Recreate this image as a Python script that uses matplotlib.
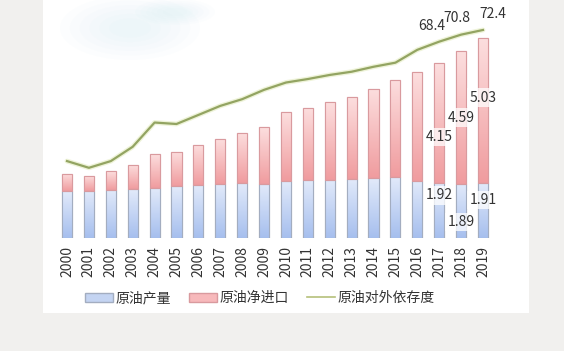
import matplotlib
matplotlib.use("Agg")
import matplotlib.pyplot as plt
import numpy as np
from matplotlib.patches import Patch, Rectangle, Ellipse
from matplotlib.lines import Line2D
from matplotlib.colors import LinearSegmentedColormap

plt.rcParams['font.family'] = ['Noto Sans CJK SC', 'DejaVu Sans']
plt.rcParams['font.weight'] = 'light'

# 数据（亿吨 / %）
years = [str(y) for y in range(2000, 2020)]
production = [1.62, 1.64, 1.67, 1.69, 1.74, 1.79, 1.83, 1.87, 1.90, 1.88,
              1.99, 2.00, 2.03, 2.06, 2.07, 2.12, 1.99, 1.92, 1.89, 1.91]
net_import = [0.60, 0.53, 0.66, 0.84, 1.18, 1.20, 1.39, 1.58, 1.75, 1.98,
              2.37, 2.51, 2.69, 2.84, 3.10, 3.37, 3.78, 4.15, 4.59, 5.03]
dependence = [27.5, 25.2, 27.5, 32.4, 40.7, 40.2, 43.3, 46.4, 48.7, 51.9,
              54.4, 55.6, 57.0, 58.1, 59.8, 61.2, 65.6, 68.4, 70.8, 72.4]
labels = ['原油产量', '原油净进口', '原油对外依存度']

fig = plt.figure(figsize=(5.64, 3.51), dpi=100)
fig.patch.set_facecolor('#f1f0ee')
# 白色底板
fig.patches.append(Rectangle((43 / 564, 1 - 313 / 351), (529 - 43) / 564, 313 / 351,
                             transform=fig.transFigure, facecolor='white',
                             edgecolor='none', zorder=-2))
# 左上角水彩装饰（多层叠加模拟晕染）
for k in range(6):
    s = 1 - k * 0.14
    for (cx, cy, w, h) in [(130, 28, 140, 64), (175, 12, 80, 26)]:
        fig.patches.append(Ellipse((cx / 564, 1 - cy / 351), w * s / 564, h * s / 351,
                                   transform=fig.transFigure, facecolor='#c6e7ee',
                                   edgecolor='none', alpha=0.05, zorder=-1))

ax = fig.add_axes([51.7 / 564, 113 / 351, 446.6 / 564, 228 / 351])
ax.set_facecolor('none')
x = np.arange(len(years))
w = 0.46

b1 = ax.bar(x, production, w, color='#c4d4f2', edgecolor='#a3adc0', linewidth=0.8, zorder=2)
b2 = ax.bar(x, net_import, w, bottom=production, color='#f7b9bb', edgecolor='#d99a9e',
            linewidth=0.8, zorder=2)

blue_cm = LinearSegmentedColormap.from_list('b', ['#a6bfee', '#e2eafa'])
red_cm = LinearSegmentedColormap.from_list('r', ['#f09c9f', '#fcdede'])
grad = np.linspace(0, 1, 64).reshape(-1, 1)
for bars, cm in [(b1, blue_cm), (b2, red_cm)]:
    for p in bars:
        x0, y0 = p.get_x(), p.get_y()
        im = ax.imshow(grad, cmap=cm, origin='lower', aspect='auto',
                       extent=[x0, x0 + p.get_width(), y0, y0 + p.get_height()], zorder=2.5)
        im.set_clip_path(p)
        p2 = Rectangle((x0, y0), p.get_width(), p.get_height(), facecolor='none',
                       edgecolor=p.get_edgecolor(), linewidth=0.8, zorder=2.6)
        ax.add_patch(p2)

ax.set_xlim(-0.7, 19.7)
ax.set_ylim(0, 7.92)
ax.set_xticks(x)
ax.set_xticklabels(years, rotation=90, fontsize=10, color='#333333')
ax.tick_params(axis='x', length=0, pad=6)
ax.set_yticks([])
for s in ax.spines.values():
    s.set_visible(False)

ax2 = ax.twinx()
ax2.set_ylim(1.16, 79.24)
ax2.plot(x, dependence, color='#eef3d8', lw=3.5, zorder=3, solid_capstyle='round')
ax2.plot(x, dependence, color='#93a462', lw=1.6, zorder=4)
ax2.set_yticks([])
for s in ax2.spines.values():
    s.set_visible(False)

# 依存度标签
for i, (dx, dy) in zip([17, 18, 19], [(-7, 16), (-4, 17), (10, 16)]):
    ax2.annotate(f'{dependence[i]:.1f}', (x[i], dependence[i]), xytext=(dx, dy),
                 textcoords='offset pixels', ha='center', va='center',
                 fontsize=10, color='#333333', zorder=6)

# 柱状数值标签
box = dict(boxstyle='square,pad=0.15', facecolor='white', edgecolor='none', alpha=0.75)
for i, f in zip([17, 18, 19], [0.38, 0.5, 0.59]):
    ax.text(x[i], production[i] + net_import[i] * f, f'{net_import[i]:.2f}',
            ha='center', va='center', fontsize=10, color='#333333', bbox=box, zorder=6)
for i, f in zip([17, 18, 19], [0.77, 0.30, 0.69]):
    ax.text(x[i], production[i] * f, f'{production[i]:.2f}',
            ha='center', va='center', fontsize=10, color='#333333', bbox=box, zorder=6)

handles = [Patch(facecolor='#c4d4f2', edgecolor='#a3adc0'),
           Patch(facecolor='#f7b9bb', edgecolor='#d99a9e'),
           Line2D([], [], color='#b5c07a', lw=1.2)]
fig.legend(handles, labels, loc='center', bbox_to_anchor=(260 / 564, 1 - 298 / 351),
           ncol=3, frameon=False, fontsize=10, handlelength=2.0, handleheight=0.6,
           handletextpad=0.2, columnspacing=1.3, labelcolor='#333333')

fig.savefig('out.png', dpi=100, facecolor=fig.get_facecolor())
